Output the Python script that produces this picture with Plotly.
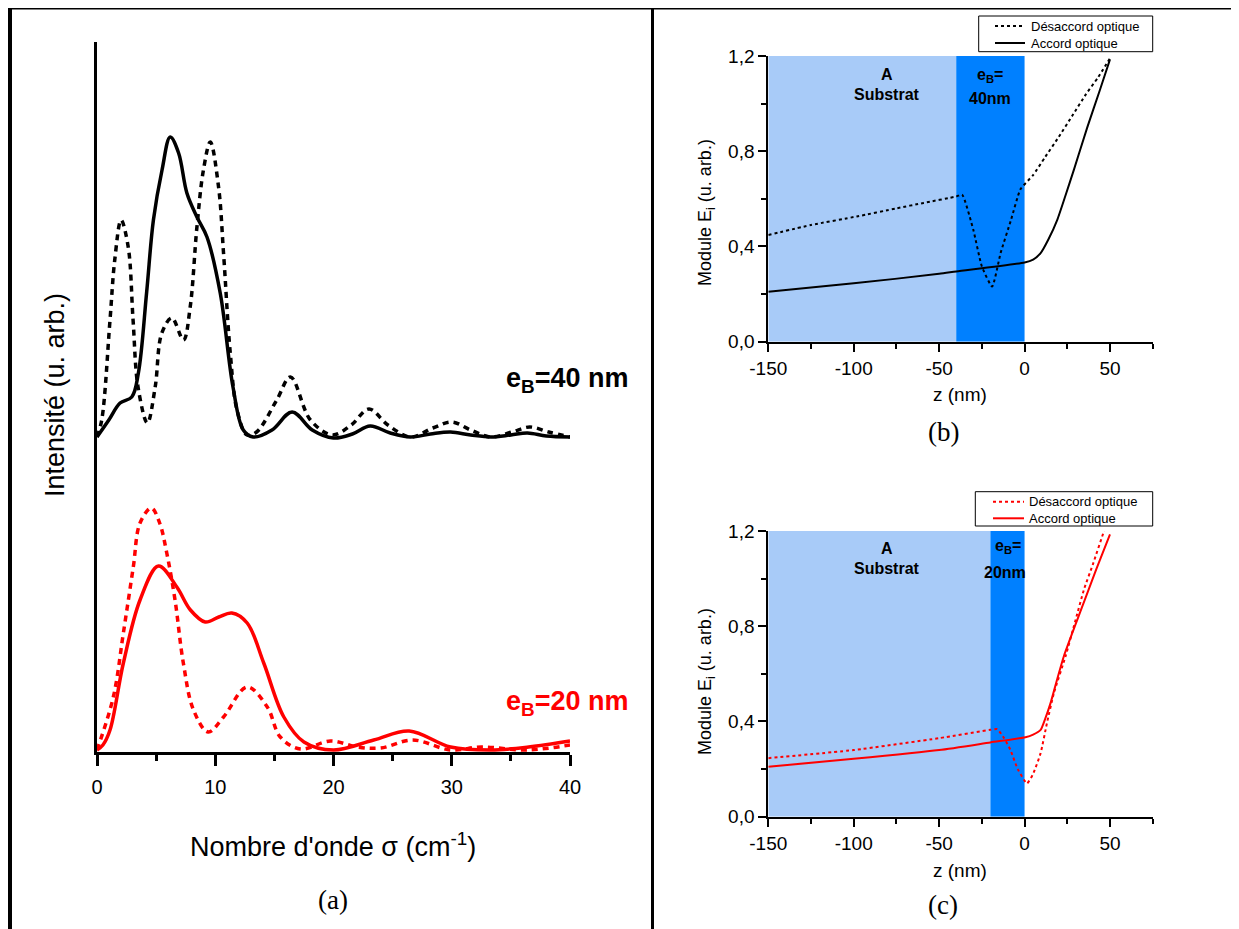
import plotly.graph_objects as go

# The page body has an 8 px margin, so the figure is 8 px smaller and every
# position is measured from (8, 8) of the window.
OFF = 8
W, H = 1239 - OFF, 929 - OFF

# ---------------- Panel (a): intensity spectra ----------------
sigma_40_dot = [0, 0.4, 1.1, 1.5, 2.04, 2.64, 3.05, 3.47, 4.26, 4.92, 5.48, 6.33, 7.31, 7.88, 8.45, 9.0, 9.58,
                10.28, 10.7, 11.27, 11.84, 12.69, 13.5, 15.2, 16.36, 18.05, 19.9, 21.5, 23.0, 24.6, 26.5,
                28.4, 30.0, 31.6, 33.3, 35.1, 36.6, 38.2, 40]
I_40_dot = [3.15, 3.32, 4.32, 4.92, 5.32, 5.05, 4.32, 3.65, 3.29, 3.65, 4.19, 4.34, 4.12, 4.45, 5.25, 5.82, 6.10,
            5.65, 4.99, 3.99, 3.42, 3.17, 3.20, 3.52, 3.75, 3.32, 3.17, 3.27, 3.43, 3.27, 3.15,
            3.24, 3.30, 3.22, 3.15, 3.20, 3.25, 3.20, 3.15]

sigma_40_acc = [0, 1.0, 1.95, 2.94, 3.5, 4.2, 4.77, 5.5, 6.19, 6.9, 7.6, 8.45, 9.3, 10.42, 11.5, 12.37, 13.2,
                14.8, 16.5, 18.2, 20, 21.6, 23.1, 24.8, 26.5, 28.2, 29.9, 31.6, 33.3, 35, 36.4, 38, 40]
I_40_acc = [3.15, 3.32, 3.49, 3.55, 3.79, 4.60, 5.32, 5.82, 6.15, 5.99, 5.59, 5.35, 5.15, 4.59, 3.65, 3.22, 3.15,
            3.22, 3.40, 3.22, 3.14, 3.18, 3.26, 3.19, 3.15, 3.18, 3.20, 3.17, 3.15, 3.17, 3.19, 3.16, 3.15]

sigma_20_dot = [0, 1.38, 2.23, 3.07, 3.64, 4.6, 5.3, 5.9, 6.6, 7.3, 8.16, 9.4, 10.7, 12.7, 14.4, 15.5, 17.2,
                19.75, 22.0, 24.0, 26.7, 29.9, 32.5, 36.4, 40]
I_20_dot = [0.02, 0.55, 1.19, 1.85, 2.29, 2.44, 2.29, 1.99, 1.52, 0.89, 0.42, 0.20, 0.35, 0.65, 0.45, 0.15, 0.03,
            0.11, 0.05, 0.04, 0.12, 0.02, 0.05, 0.02, 0.07]

sigma_20_acc = [0, 0.5, 1.1, 2.23, 3.64, 5.2, 6.75, 7.9, 9.15, 10.3, 11.4, 12.7, 14.1, 15.8, 17.5, 20, 23.4,
                26.4, 29.9, 33.3, 36.5, 40]
I_20_acc = [0.02, 0.07, 0.22, 0.89, 1.52, 1.86, 1.65, 1.42, 1.30, 1.35, 1.39, 1.29, 0.89, 0.35, 0.10, 0.02, 0.12,
            0.21, 0.05, 0.02, 0.05, 0.11]

# ---------------- Panel (b): field modulus, e_B = 40 nm ----------------
z_b_dot = [-150, -125, -98.2, -75, -59.1, -40, -36.6, -30, -25, -19, -14, -8, -2.4, 5, 12, 20, 28, 36, 43, 50]
E_b_dot = [0.448, 0.49, 0.526, 0.56, 0.583, 0.61, 0.618, 0.47, 0.316, 0.232, 0.373, 0.51, 0.64, 0.70, 0.775,
           0.86, 0.95, 1.04, 1.11, 1.19]
z_b_acc = [-150, -100, -50, -40, 0, 5, 9.4, 14, 19.2, 24, 28.9, 36.7, 44, 50]
E_b_acc = [0.21, 0.245, 0.285, 0.295, 0.333, 0.345, 0.372, 0.43, 0.513, 0.615, 0.723, 0.90, 1.055, 1.186]

# ---------------- Panel (c): field modulus, e_B = 20 nm ----------------
z_c_dot = [-150, -100, -50, -20, -16, -12, -8.3, -4, 1.4, 5, 9.4, 13, 17.2, 24, 30, 34.8, 40, 46.5, 50]
E_c_dot = [0.246, 0.28, 0.33, 0.365, 0.368, 0.33, 0.281, 0.2, 0.14, 0.18, 0.267, 0.39, 0.52, 0.674, 0.83, 0.955,
           1.06, 1.2, 1.27]
z_c_acc = [-150, -100, -50, -20, 0.5, 5, 9.4, 12, 15.2, 19, 23, 30.9, 35.3, 42, 50]
E_c_acc = [0.21, 0.243, 0.28, 0.312, 0.334, 0.345, 0.365, 0.41, 0.477, 0.575, 0.674, 0.828, 0.912, 1.04, 1.186]

# layer boundaries (nm)
substrate_b = [-150, -40]
layer_b = [-40, 0]
substrate_c = [-150, -20]
layer_c = [-20, 0]

legend_names = ["Désaccord optique", "Accord optique"]

LIGHT = "#A8CBF8"
DARK = "#0080FF"
RED = "#FF0000"
FONT = "Liberation Sans, Arial, sans-serif"
SERIF = "Liberation Serif, Times New Roman, serif"
DOT = "3px,3px"


def px(x):
    return (x - OFF) / W


def py(y):
    return 1 - (y - OFF) / H


fig = go.Figure()

# panel a traces
fig.add_trace(go.Scatter(x=sigma_40_dot, y=I_40_dot, mode="lines", xaxis="x", yaxis="y",
                         name="Désaccord optique, e_B=40 nm",
                         line=dict(color="black", width=3.5, dash="6px,5px", shape="spline", smoothing=1.0)))
fig.add_trace(go.Scatter(x=sigma_40_acc, y=I_40_acc, mode="lines", xaxis="x", yaxis="y",
                         name="Accord optique, e_B=40 nm",
                         line=dict(color="black", width=3.5, shape="spline", smoothing=1.0)))
fig.add_trace(go.Scatter(x=sigma_20_dot, y=I_20_dot, mode="lines", xaxis="x", yaxis="y",
                         name="Désaccord optique, e_B=20 nm",
                         line=dict(color=RED, width=3.5, dash="6px,5px", shape="spline", smoothing=1.0)))
fig.add_trace(go.Scatter(x=sigma_20_acc, y=I_20_acc, mode="lines", xaxis="x", yaxis="y",
                         name="Accord optique, e_B=20 nm",
                         line=dict(color=RED, width=3.5, shape="spline", smoothing=1.0)))

# panel b traces
fig.add_trace(go.Scatter(x=z_b_dot, y=E_b_dot, mode="lines", xaxis="x2", yaxis="y2", name=legend_names[0],
                         line=dict(color="black", width=2, dash=DOT, shape="spline", smoothing=0.5)))
fig.add_trace(go.Scatter(x=z_b_acc, y=E_b_acc, mode="lines", xaxis="x2", yaxis="y2", name=legend_names[1],
                         line=dict(color="black", width=2, shape="spline", smoothing=0.6)))

# panel c traces
fig.add_trace(go.Scatter(x=z_c_dot, y=E_c_dot, mode="lines", xaxis="x3", yaxis="y3", name=legend_names[0],
                         line=dict(color=RED, width=2, dash=DOT, shape="spline", smoothing=0.5)))
fig.add_trace(go.Scatter(x=z_c_acc, y=E_c_acc, mode="lines", xaxis="x3", yaxis="y3", name=legend_names[1],
                         line=dict(color=RED, width=2, shape="spline", smoothing=0.6)))

shapes = []
# region rectangles
for (xa, ya, sub, lay) in [("x2", "y2", substrate_b, layer_b), ("x3", "y3", substrate_c, layer_c)]:
    shapes.append(dict(type="rect", xref=xa, yref=ya, x0=sub[0], x1=sub[1], y0=0, y1=1.2,
                       fillcolor=LIGHT, line=dict(width=0), layer="below"))
    shapes.append(dict(type="rect", xref=xa, yref=ya, x0=lay[0], x1=lay[1], y0=0, y1=1.2,
                       fillcolor=DARK, line=dict(width=0), layer="below"))

# table frame
shapes.append(dict(type="line", xref="paper", yref="paper", x0=px(8), x1=px(1238), y0=py(7.5), y1=py(7.5),
                   line=dict(color="black", width=4)))
shapes.append(dict(type="line", xref="paper", yref="paper", x0=px(10), x1=px(10), y0=py(6), y1=0,
                   line=dict(color="black", width=4)))
shapes.append(dict(type="line", xref="paper", yref="paper", x0=px(652.5), x1=px(652.5), y0=py(6), y1=0,
                   line=dict(color="black", width=3)))
shapes.append(dict(type="line", xref="paper", yref="paper", x0=px(1236), x1=px(1236), y0=py(6), y1=0,
                   line=dict(color="black", width=4)))

ann = []


def A(x, y, text, size, color="black", font=FONT, angle=0, xanchor="center"):
    ann.append(dict(x=px(x), y=py(y), xref="paper", yref="paper", text=text, showarrow=False,
                    font=dict(family=font, size=size, color=color), textangle=angle,
                    xanchor=xanchor, yanchor="middle"))


# legend boxes (drawn as boxes with sample lines and text)
for (bx0, by0, bx1, by1, r1, r2, lx0, lx1, tx, col) in [
        (978.7, 16, 1152.7, 51.7, 26, 43, 995, 1025, 1029, "black"),
        (975.3, 491.7, 1152.7, 526, 501.7, 518.3, 993, 1024, 1027, RED)]:
    shapes.append(dict(type="rect", xref="paper", yref="paper", x0=px(bx0), x1=px(bx1), y0=py(by1), y1=py(by0),
                       fillcolor="white", line=dict(color="black", width=1)))
    shapes.append(dict(type="line", xref="paper", yref="paper", x0=px(lx0), x1=px(lx1), y0=py(r1), y1=py(r1),
                       line=dict(color=col, width=2, dash=DOT)))
    shapes.append(dict(type="line", xref="paper", yref="paper", x0=px(lx0), x1=px(lx1), y0=py(r2), y1=py(r2),
                       line=dict(color=col, width=2)))
    A(tx, r1, legend_names[0], 13, xanchor="left")
    A(tx, r2, legend_names[1], 13, xanchor="left")

# panel a texts
A(55, 395, "Intensité (u. arb.)", 27, angle=-90)
A(333, 845, "Nombre d'onde σ (cm<sup>-1</sup>)", 27)
A(631, 380, "<b>e<sub>B</sub>=40 nm</b>", 27, xanchor="right")
A(631, 703, "<b>e<sub>B</sub>=20 nm</b>", 27, color=RED, xanchor="right")
A(333, 900, "(a)", 27, font=SERIF)

# panel b texts
A(706, 213, "Module E<sub>i</sub> (u. arb.)", 18, angle=-90)
A(960, 395, "z (nm)", 19)
A(886.7, 74, "<b>A</b>", 16)
A(886.7, 94, "<b>Substrat</b>", 16)
A(990, 75, "<b>e<sub>B</sub>=</b>", 16)
A(990, 98, "<b>40nm</b>", 16)
A(943, 432, "(b)", 27, font=SERIF)

# panel c texts
A(706, 682, "Module E<sub>i</sub> (u. arb.)", 18, angle=-90)
A(960, 870, "z (nm)", 19)
A(886.7, 548, "<b>A</b>", 16)
A(886.7, 568, "<b>Substrat</b>", 16)
A(1008, 546, "<b>e<sub>B</sub>=</b>", 16)
A(1005, 572, "<b>20nm</b>", 16)
A(943, 905, "(c)", 27, font=SERIF)

axis_common = dict(showgrid=False, zeroline=False, showline=True, linecolor="black", color="black",
                   automargin=False)

zticks = [-150, -100, -50, 0, 50]
ztext = ["-150", "-100", "-50", "0", "50"]
eticks = [0, 0.4, 0.8, 1.2]
eticktext = ["0,0", "0,4", "0,8", "1,2"]


def zaxis(anchor, dom):
    return dict(**axis_common, domain=dom, range=[-150, 75], anchor=anchor, linewidth=2,
                tickmode="array", tickvals=zticks, ticktext=ztext, ticks="outside", ticklen=8, tickwidth=2,
                tickfont=dict(size=19),
                minor=dict(ticks="outside", ticklen=5, tickwidth=2, dtick=25, tick0=-150))


def eaxis(anchor, dom):
    return dict(**axis_common, domain=dom, range=[0, 1.2], anchor=anchor, linewidth=2,
                tickmode="array", tickvals=eticks, ticktext=eticktext, ticks="outside", ticklen=8, tickwidth=2,
                tickfont=dict(size=19),
                minor=dict(ticks="outside", ticklen=5, tickwidth=2, dtick=0.2, tick0=0))


fig.update_layout(
    width=W, height=H, autosize=False,
    margin=dict(l=0, r=0, t=0, b=0, pad=0, autoexpand=False),
    showlegend=False,
    paper_bgcolor="white", plot_bgcolor="rgba(0,0,0,0)",
    font=dict(family=FONT, color="black"),
    xaxis=dict(**axis_common, domain=[px(97), px(570)], range=[0, 40], anchor="y", linewidth=3,
               tickmode="linear", tick0=0, dtick=10, ticks="outside", ticklen=11, tickwidth=3,
               tickfont=dict(size=20), ticklabelstandoff=4,
               minor=dict(ticks="outside", ticklen=6, tickwidth=3, dtick=5, tick0=0)),
    yaxis=dict(**axis_common, domain=[py(752), py(42)], range=[0, 7.1], anchor="x", linewidth=3,
               ticks="", showticklabels=False),
    xaxis2=zaxis("y2", [px(768.3), px(1152.7)]),
    yaxis2=eaxis("x2", [py(341.7), py(56)]),
    xaxis3=zaxis("y3", [px(768.3), px(1152.7)]),
    yaxis3=eaxis("x3", [py(816.7), py(531)]),
    shapes=shapes,
    annotations=ann,
)

fig.write_html("out.html")
